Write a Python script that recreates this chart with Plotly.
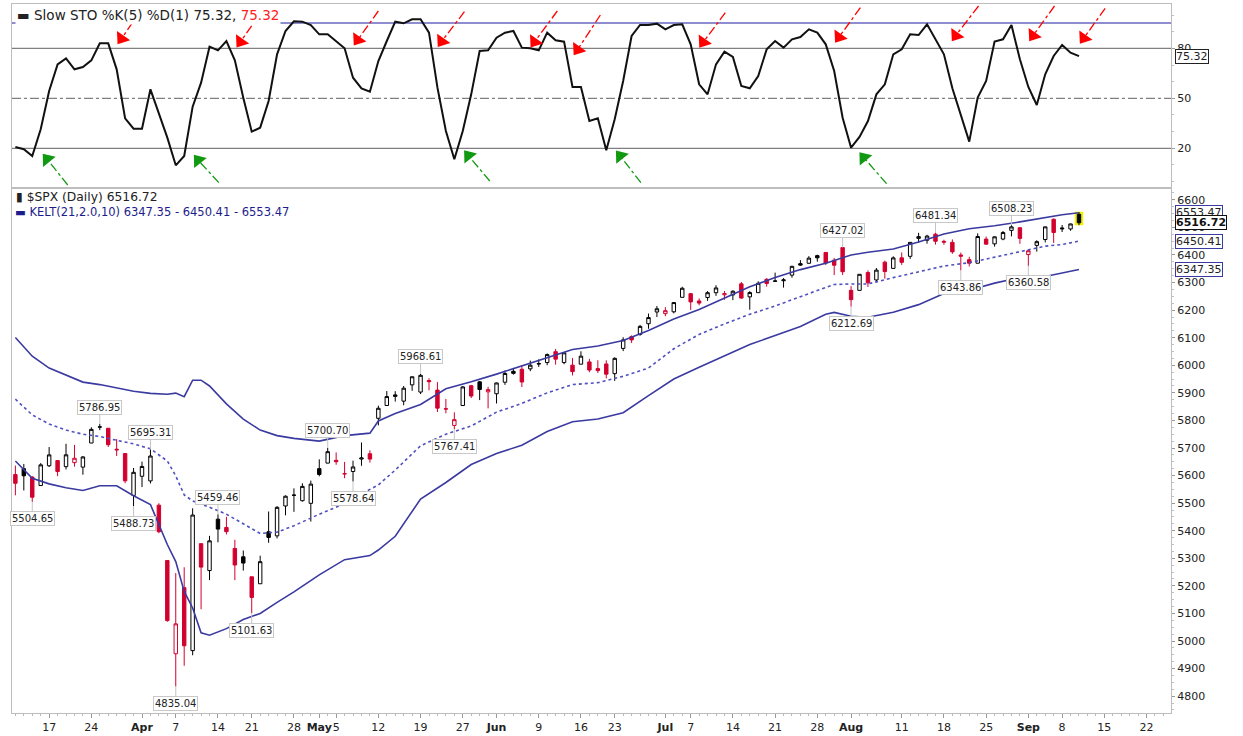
import pandas as pd
import plotly.graph_objs as go
from plotly.subplots import make_subplots

# trading calendar (NYSE holidays removed)
holidays = ['2025-04-18', '2025-05-26', '2025-06-19', '2025-07-04', '2025-09-01']
days = [d for d in pd.bdate_range('2025-03-11', '2025-09-30') if d.strftime('%Y-%m-%d') not in holidays]
pos = {d.strftime('%Y-%m-%d'): i for i, d in enumerate(days)}

# $SPX daily OHLC, Mar 11 - Sep 10 2025
prev_close = 5614.56
opens = [5603.65, 5624.84, 5594.45, 5563.85, 5635.60, 5654.53, 5632.37, 5646.92, 5630.73, 5718.08,
         5775.86, 5771.66, 5695.64, 5679.88, 5527.91, 5597.53, 5580.76, 5492.74, 5292.14, 4953.79,
         5193.57, 4965.28, 5353.15, 5255.56, 5441.96, 5411.99, 5335.75, 5305.45, 5232.94, 5207.67,
         5395.92, 5381.38, 5489.73, 5529.22, 5508.87, 5499.44, 5625.14, 5645.31, 5655.32, 5605.88,
         5614.74, 5660.00, 5679.12, 5807.72, 5854.21, 5887.00, 5869.98, 5929.09, 5902.88, 5944.66,
         5910.00, 5841.26, 5781.89, 5854.07, 5925.94, 5939.92, 5903.67, 5896.68, 5938.56, 5978.14,
         5985.67, 5987.06, 6004.60, 6009.91, 6049.38, 6009.90, 6000.56, 6004.00, 6012.15, 5987.93,
         6004.81, 5969.67, 6061.21, 6104.20, 6112.10, 6150.70, 6193.36, 6187.25, 6193.94, 6246.46,
         6259.75, 6233.38, 6245.73, 6263.14, 6255.68, 6255.15, 6295.30, 6248.22, 6263.40, 6312.00,
         6304.74, 6306.60, 6326.90, 6368.60, 6370.01, 6397.69, 6409.25, 6381.18, 6427.02, 6271.71,
         6271.71, 6336.33, 6309.45, 6374.01, 6351.47, 6389.69, 6395.17, 6460.17, 6453.40, 6475.50,
         6445.93, 6445.87, 6400.00, 6383.21, 6370.17, 6457.67, 6440.43, 6457.83, 6489.28, 6498.89,
         6401.51, 6434.98, 6456.07, 6529.53, 6498.09, 6494.38, 6547.64]
highs = [5636.30, 5642.19, 5597.78, 5645.27, 5703.52, 5654.53, 5715.33, 5711.15, 5670.84, 5775.14,
         5786.95, 5772.19, 5732.28, 5681.12, 5627.56, 5650.57, 5695.31, 5499.53, 5292.14, 5246.57,
         5267.47, 5481.34, 5353.15, 5381.46, 5459.46, 5450.41, 5367.24, 5328.31, 5232.94, 5309.60,
         5469.69, 5489.40, 5528.11, 5553.66, 5571.95, 5581.84, 5658.91, 5700.70, 5683.91, 5649.62,
         5654.14, 5720.10, 5691.68, 5853.50, 5906.63, 5906.06, 5924.84, 5958.62, 5968.61, 5953.06,
         5939.00, 5878.08, 5829.51, 5924.33, 5929.00, 5943.13, 5922.14, 5937.40, 5981.35, 5990.48,
         5999.70, 6016.87, 6021.31, 6043.01, 6059.40, 6045.43, 6026.16, 6050.83, 6023.25, 6018.25,
         6018.20, 6028.81, 6101.80, 6108.51, 6146.52, 6187.68, 6215.08, 6210.78, 6227.60, 6284.65,
         6262.09, 6242.70, 6269.11, 6290.22, 6269.41, 6272.12, 6302.04, 6268.91, 6304.48, 6315.61,
         6336.08, 6316.12, 6360.64, 6381.31, 6395.82, 6401.07, 6409.25, 6389.38, 6427.02, 6287.28,
         6329.94, 6343.96, 6352.83, 6379.65, 6395.16, 6409.29, 6446.55, 6480.28, 6473.22, 6481.34,
         6455.34, 6456.42, 6408.76, 6393.53, 6478.33, 6466.89, 6466.89, 6487.10, 6508.23, 6500.78,
         6416.54, 6453.34, 6502.54, 6532.65, 6508.76, 6513.35, 6555.97]
lows = [5528.41, 5546.09, 5504.65, 5563.85, 5631.12, 5597.76, 5622.20, 5632.57, 5603.10, 5718.08,
        5764.77, 5703.64, 5670.94, 5572.42, 5488.73, 5558.52, 5571.48, 5390.83, 5069.90, 4835.04,
        4910.42, 4948.43, 5115.27, 5220.77, 5358.02, 5386.44, 5220.79, 5255.58, 5101.63, 5207.67,
        5356.42, 5371.96, 5455.86, 5468.64, 5505.70, 5433.24, 5597.35, 5644.81, 5639.19, 5590.50,
        5578.64, 5635.66, 5646.92, 5782.04, 5853.68, 5868.41, 5855.00, 5907.38, 5895.69, 5909.26,
        5830.44, 5825.82, 5767.41, 5854.07, 5881.21, 5873.80, 5843.66, 5861.43, 5929.00, 5966.11,
        5921.20, 5978.63, 5994.18, 6000.26, 6002.32, 6003.88, 5963.21, 6004.00, 5974.80, 5971.89,
        5952.56, 5943.23, 6051.40, 6080.97, 6107.26, 6132.35, 6174.97, 6177.97, 6188.29, 6246.46,
        6201.01, 6217.73, 6233.51, 6251.80, 6237.56, 6236.31, 6241.12, 6201.60, 6263.40, 6285.27,
        6303.79, 6281.71, 6317.49, 6360.57, 6368.53, 6375.86, 6363.45, 6327.16, 6327.58, 6212.69,
        6271.71, 6283.95, 6301.09, 6314.00, 6350.76, 6364.06, 6385.76, 6445.02, 6441.07, 6437.80,
        6437.24, 6404.20, 6343.86, 6358.53, 6370.17, 6438.06, 6430.46, 6453.42, 6467.49, 6440.57,
        6360.58, 6412.22, 6445.46, 6443.68, 6483.26, 6487.84, 6508.00]
closes = [5572.07, 5599.30, 5521.52, 5638.94, 5675.12, 5614.66, 5675.29, 5662.89, 5667.56, 5767.57,
          5776.65, 5712.20, 5693.31, 5580.94, 5611.85, 5633.07, 5670.97, 5396.52, 5074.08, 5062.25,
          4982.77, 5456.90, 5268.05, 5363.36, 5405.97, 5396.63, 5275.70, 5282.70, 5158.20, 5287.76,
          5375.86, 5484.77, 5525.21, 5528.75, 5560.83, 5569.06, 5604.14, 5686.67, 5650.38, 5606.91,
          5631.28, 5663.94, 5659.91, 5844.19, 5886.55, 5892.58, 5916.93, 5958.38, 5963.60, 5940.46,
          5844.61, 5842.01, 5802.82, 5921.54, 5888.55, 5912.17, 5911.69, 5935.94, 5970.37, 5970.81,
          5939.30, 6000.36, 6005.88, 6038.81, 6022.24, 6045.26, 5976.97, 6033.11, 5982.72, 5980.87,
          5967.84, 6025.17, 6092.18, 6092.16, 6141.02, 6173.07, 6204.95, 6198.01, 6227.42, 6279.35,
          6229.98, 6225.52, 6263.26, 6280.46, 6259.75, 6268.56, 6243.76, 6263.70, 6297.36, 6296.79,
          6305.60, 6309.62, 6358.91, 6363.35, 6388.64, 6389.77, 6370.86, 6362.90, 6339.39, 6238.01,
          6329.94, 6299.19, 6345.06, 6340.00, 6389.45, 6373.45, 6445.76, 6466.58, 6468.54, 6449.80,
          6449.15, 6411.37, 6395.78, 6370.17, 6466.91, 6439.32, 6465.94, 6481.40, 6501.86, 6460.26,
          6415.54, 6448.26, 6502.08, 6481.50, 6495.15, 6512.61, 6516.72]

# Slow STO %K(5) %D(1), one value per trading day
stoch = [20.8, 19.5, 15.4, 31.4, 54.4, 70.4, 74.0, 67.4, 68.8, 72.8,
         83.0, 83.0, 67.4, 38.0, 31.8, 31.8, 55.4, 40.4, 26.4, 9.8,
         15.4, 45.0, 59.4, 81.0, 78.8, 84.4, 72.8, 50.4, 30.0, 32.4,
         48.4, 76.4, 90.4, 96.2, 96.0, 94.0, 88.4, 88.4, 84.0, 80.0,
         62.4, 56.0, 54.0, 72.4, 84.4, 96.0, 95.0, 97.4, 97.4, 89.4,
         56.4, 30.4, 13.4, 30.4, 52.4, 78.4, 78.8, 86.4, 89.4, 90.4,
         80.4, 80.0, 78.8, 89.4, 84.8, 84.0, 56.8, 56.8, 36.4, 38.0,
         18.8, 37.4, 60.4, 87.4, 94.0, 94.0, 94.8, 91.4, 94.0, 94.4,
         82.4, 58.4, 52.4, 70.4, 78.0, 74.8, 57.4, 56.0, 63.4, 79.4,
         84.4, 80.4, 85.4, 86.8, 91.4, 89.4, 82.4, 66.4, 38.4, 20.4,
         26.8, 36.4, 52.4, 58.4, 76.4, 79.4, 88.4, 88.0, 94.4, 85.4,
         76.4, 56.0, 39.4, 24.0, 50.4, 60.4, 84.0, 85.4, 94.0, 73.4,
         56.8, 46.0, 64.4, 75.4, 82.0, 77.4, 75.32]

# KELT(21,2.0,10)
kelt_days = ['2025-03-11', '2025-03-13', '2025-03-17', '2025-03-19', '2025-03-21', '2025-03-25',
             '2025-03-27', '2025-03-31', '2025-04-02', '2025-04-04', '2025-04-07', '2025-04-08',
             '2025-04-09', '2025-04-10', '2025-04-11', '2025-04-15', '2025-04-17', '2025-04-22',
             '2025-04-24', '2025-04-28', '2025-05-01', '2025-05-06', '2025-05-09', '2025-05-12',
             '2025-05-14', '2025-05-19', '2025-05-22', '2025-05-28', '2025-06-02', '2025-06-05',
             '2025-06-10', '2025-06-13', '2025-06-18', '2025-06-24', '2025-06-27', '2025-07-02',
             '2025-07-08', '2025-07-11', '2025-07-16', '2025-07-21', '2025-07-24', '2025-07-29',
             '2025-07-30', '2025-08-01', '2025-08-05', '2025-08-08', '2025-08-13', '2025-08-18',
             '2025-08-21', '2025-08-26', '2025-08-29', '2025-09-04', '2025-09-08', '2025-09-10']
kelt_upper = [6101, 6033, 5990, 5965, 5939, 5930, 5918, 5906, 5898, 5895, 5899, 5886,
              5946, 5946, 5925, 5860, 5805, 5765, 5745, 5735, 5725, 5745, 5754, 5798,
              5825, 5858, 5915, 5940, 5968, 5998, 6027, 6057, 6070, 6090, 6126, 6168,
              6202, 6245, 6285, 6318, 6347, 6370, 6380, 6400, 6410, 6422, 6447, 6476,
              6495, 6506, 6520, 6536, 6546, 6553.47]
kelt_mid = [5877, 5820, 5787, 5765, 5750, 5742, 5728, 5715, 5697, 5653, 5599, 5530,
            5508, 5497, 5485, 5460, 5425, 5390, 5395, 5418, 5460, 5498, 5550, 5566,
            5620, 5708, 5750, 5780, 5830, 5862, 5900, 5930, 5937, 5960, 5990, 6060,
            6112, 6150, 6185, 6215, 6249, 6283, 6293, 6295, 6295, 6318, 6340, 6360,
            6372, 6392, 6412, 6432, 6438, 6450.41]
kelt_lower = [5653, 5590, 5570, 5556, 5546, 5563, 5563, 5527, 5495, 5350, 5288, 5180,
              5120, 5030, 5021, 5045, 5078, 5100, 5140, 5178, 5240, 5295, 5310, 5330,
              5380, 5515, 5575, 5640, 5680, 5710, 5760, 5795, 5805, 5828, 5890, 5950,
              5993, 6035, 6075, 6108, 6141, 6185, 6192, 6178, 6174, 6192, 6220, 6260,
              6272, 6298, 6318, 6322, 6335, 6347.35]

# swing labels on the price chart
high_days = ['2025-03-25', '2025-04-02', '2025-04-14', '2025-05-02', '2025-05-19', '2025-07-31', '2025-08-15', '2025-08-28']
high_vals = [5786.95, 5695.31, 5459.46, 5700.70, 5968.61, 6427.02, 6481.34, 6508.23]
low_days = ['2025-03-13', '2025-03-31', '2025-04-07', '2025-04-21', '2025-05-07', '2025-05-23', '2025-08-01', '2025-08-20', '2025-09-02']
low_vals = [5504.65, 5488.73, 4835.04, 5101.63, 5578.64, 5767.41, 6212.69, 6343.86, 6360.58]

# hand-drawn arrows on the STO panel (trading-day position, STO value)
red_tip_x = [12.1, 26.2, 40.1, 50.0, 61.0, 66.1, 81.0, 97.1, 110.9, 120.1, 126.1]
red_tip_y = [82.4, 80.4, 81.8, 80.8, 80.4, 75.4, 80.4, 83.4, 84.4, 84.4, 82.8]
red_tail_x = [15.1, 29.2, 43.0, 53.2, 64.2, 69.3, 84.1, 100.1, 114.1, 123.1, 129.1]
red_tail_y = [104.4, 102.4, 102.4, 102.0, 102.4, 100.0, 101.4, 104.4, 105.4, 105.4, 104.0]
green_tip_x = [3.3, 21.2, 53.2, 71.2, 100.0]
green_tip_y = [16.4, 15.4, 18.4, 18.4, 17.4]
green_tail_x = [6.2, 24.1, 56.2, 74.1, 103.2]
green_tail_y = [-2.0, -0.6, 0.4, -0.6, -1.2]

# x axis labels
tick_days = ['2025-03-17', '2025-03-24', '2025-04-01', '2025-04-07', '2025-04-14', '2025-04-21', '2025-04-28',
             '2025-05-01', '2025-05-05', '2025-05-12', '2025-05-19', '2025-05-27', '2025-06-02', '2025-06-09',
             '2025-06-16', '2025-06-23', '2025-07-01', '2025-07-07', '2025-07-14', '2025-07-21', '2025-07-28',
             '2025-08-01', '2025-08-11', '2025-08-18', '2025-08-25', '2025-09-02', '2025-09-08', '2025-09-15',
             '2025-09-22']
tick_text = ['17', '24', '<b>Apr</b>', '7', '14', '21', '28', '<b>May</b>', '5', '12', '19', '27', '<b>Jun</b>',
             '9', '16', '23', '<b>Jul</b>', '7', '14', '21', '28', '<b>Aug</b>', '11', '18', '25', '<b>Sep</b>',
             '8', '15', '22']

FONT = 'DejaVu Sans'
RED = '#d2002e'
BLUE = '#3a3aa0'
split = 0.7405

n = len(closes)
xs = list(range(n))
prev = [prev_close] + closes[:-1]
up = [c >= p for c, p in zip(closes, prev)]

fig = make_subplots(rows=2, cols=1, shared_xaxes=True, vertical_spacing=0, row_heights=[0.26, 0.74])

# --- STO panel
for lvl, col, dash in [(80, '#808080', 'solid'), (20, '#808080', 'solid'), (50, '#808080', 'dashdot'), (95.2, '#1c1ca0', 'solid')]:
    fig.add_shape(type='line', xref='x domain', yref='y', x0=0, x1=1, y0=lvl, y1=lvl,
                  line=dict(color=col, width=1.2, dash=dash), layer='below')

fig.add_trace(go.Scatter(x=xs, y=stoch, mode='lines', line=dict(color='#111111', width=2),
                         showlegend=False, hoverinfo='skip'), row=1, col=1)


def add_arrow(tx, ty, sx, sy, color, angle):
    hx = tx + 0.16 * (sx - tx)
    hy = ty + 0.16 * (sy - ty)
    fig.add_trace(go.Scatter(x=[sx, hx], y=[sy, hy], mode='lines',
                             line=dict(color=color, width=1.3, dash='dashdot'),
                             showlegend=False, hoverinfo='skip'), row=1, col=1)
    fig.add_trace(go.Scatter(x=[hx], y=[hy], mode='markers',
                             marker=dict(symbol='triangle-up', size=14, angle=angle, color=color),
                             showlegend=False, hoverinfo='skip'), row=1, col=1)


for a in zip(red_tip_x, red_tip_y, red_tail_x, red_tail_y):
    add_arrow(*a, '#ff0000', 215)
for a in zip(green_tip_x, green_tip_y, green_tail_x, green_tail_y):
    add_arrow(*a, '#119911', 321)

# --- price panel
kx = [pos[d] for d in kelt_days]
fig.add_trace(go.Scatter(x=kx, y=kelt_upper, mode='lines', line=dict(color=BLUE, width=1.6),
                         showlegend=False, hoverinfo='skip'), row=2, col=1)
fig.add_trace(go.Scatter(x=kx, y=kelt_mid, mode='lines', line=dict(color='#5050c0', width=1.6, dash='dot'),
                         showlegend=False, hoverinfo='skip'), row=2, col=1)
fig.add_trace(go.Scatter(x=kx, y=kelt_lower, mode='lines', line=dict(color=BLUE, width=1.6),
                         showlegend=False, hoverinfo='skip'), row=2, col=1)

# highlight on the latest bar
fig.add_trace(go.Candlestick(x=[xs[-1]], open=[opens[-1]], high=[highs[-1]], low=[lows[-1]], close=[closes[-1]],
                             increasing=dict(line=dict(color='#f2f200', width=5), fillcolor='#f2f200'),
                             decreasing=dict(line=dict(color='#f2f200', width=5), fillcolor='#f2f200'),
                             showlegend=False, hoverinfo='skip'), row=2, col=1)

for flag, col in [(True, 'black'), (False, RED)]:
    idx = [i for i in xs if up[i] == flag]
    fig.add_trace(go.Candlestick(x=idx,
                                 open=[opens[i] for i in idx],
                                 high=[highs[i] for i in idx],
                                 low=[lows[i] for i in idx],
                                 close=[closes[i] for i in idx],
                                 increasing=dict(line=dict(color=col, width=1), fillcolor='white'),
                                 decreasing=dict(line=dict(color=col, width=1), fillcolor=col),
                                 whiskerwidth=0, showlegend=False, hoverinfo='skip'), row=2, col=1)

annotations = []
lab = dict(xref='x2', yref='y2', showarrow=True, arrowhead=0, arrowwidth=1, arrowcolor='#c4c4c4',
           ax=0, font=dict(family=FONT, size=10, color='#222222'), bgcolor='white',
           bordercolor='#c8c8c8', borderwidth=1, borderpad=1)
for d, v in zip(high_days, high_vals):
    annotations.append(dict(x=pos[d], y=v, text=f'{v:.2f}', ay=-17, **lab))
for d, v in zip(low_days, low_vals):
    annotations.append(dict(x=pos[d], y=v, text=f'{v:.2f}', ay=17, **lab))

# panel titles
annotations.append(dict(xref='x domain', yref='y domain', x=0, y=1, xanchor='left', yanchor='top',
                        xshift=3, yshift=-1, showarrow=False, bgcolor='white',
                        font=dict(family=FONT, size=13.5, color='#222222'),
                        text=f'▬ Slow STO %K(5) %D(1) {stoch[-1]:.2f}, <span style="color:#ff2020">{stoch[-1]:.2f}</span>'))
annotations.append(dict(xref='x2 domain', yref='y2 domain', x=0, y=1, xanchor='left', yanchor='top',
                        xshift=2, yshift=0, showarrow=False,
                        font=dict(family=FONT, size=12.3, color='#222222'),
                        text=f'▮ $SPX (Daily) {closes[-1]:.2f}'))
annotations.append(dict(xref='x2 domain', yref='y2 domain', x=0, y=1, xanchor='left', yanchor='top',
                        xshift=1, yshift=-15, showarrow=False,
                        font=dict(family=FONT, size=11.5, color='#1c1c8c'),
                        text=f'▬ KELT(21,2.0,10) {kelt_lower[-1]:.2f} - {kelt_mid[-1]:.2f} - {kelt_upper[-1]:.2f}'))

# last-value tags on the right scale
tag = dict(xref='paper', x=1, xanchor='left', xshift=4, showarrow=False, bgcolor='white',
           borderwidth=1, borderpad=0)
annotations.append(dict(yref='y', y=stoch[-1], text=f'{stoch[-1]:.2f}', bordercolor='#222222',
                        font=dict(family=FONT, size=11, color='#222222'), **tag))
annotations.append(dict(yref='y2', y=kelt_upper[-1], text=f'{kelt_upper[-1]:.2f}', bordercolor=BLUE,
                        font=dict(family=FONT, size=11, color='#222222'), **tag))
annotations.append(dict(yref='y2', y=kelt_mid[-1], text=f'{kelt_mid[-1]:.2f}', bordercolor=BLUE,
                        font=dict(family=FONT, size=11, color='#222222'), **tag))
annotations.append(dict(yref='y2', y=kelt_lower[-1], text=f'{kelt_lower[-1]:.2f}', bordercolor=BLUE,
                        font=dict(family=FONT, size=11, color='#222222'), **tag))
annotations.append(dict(yref='y2', y=closes[-1], text=f'<b>{closes[-1]:.2f}</b>', bordercolor='#111111',
                        font=dict(family=FONT, size=11, color='#111111'), **tag))

axis_common = dict(showgrid=False, zeroline=False, showline=True, mirror=True, linecolor='#bdbdbd',
                   linewidth=1, automargin=False)

fig.update_layout(
    width=1243, height=736,
    margin=dict(l=12, r=72, t=4, b=23),
    paper_bgcolor='white', plot_bgcolor='white',
    showlegend=False, boxgap=0.42,
    font=dict(family=FONT, size=11, color='#222222'),
    annotations=annotations,
    xaxis=dict(range=[-0.4, 136.9], showticklabels=False, ticks='', rangeslider=dict(visible=False), **axis_common),
    xaxis2=dict(range=[-0.4, 136.9], tickmode='array', tickvals=[pos[d] for d in tick_days], ticktext=tick_text,
                tickangle=0, ticks='outside', ticklen=4, tickcolor='#9a9a9a',
                tickfont=dict(family=FONT, size=11, color='#222222'),
                minor=dict(dtick=1, tick0=0, ticks='outside', ticklen=2, tickcolor='#b8b8b8'),
                rangeslider=dict(visible=False), **axis_common),
    yaxis=dict(domain=[split, 1], range=[-3.8, 106.6], side='right', tickmode='array', tickvals=[20, 50, 80],
               ticks='outside', ticklen=3, tickcolor='#9a9a9a',
               minor=dict(dtick=10, ticks='outside', ticklen=2, tickcolor='#c0c0c0'), **axis_common),
    yaxis2=dict(domain=[0, split], range=[4739, 6643], side='right', tickmode='linear', tick0=4800, dtick=100,
                ticks='outside', ticklen=3, tickcolor='#9a9a9a',
                minor=dict(dtick=25, ticks='outside', ticklen=2, tickcolor='#c0c0c0'), **axis_common),
)

# the page is photographed from its top-left corner, so drop the default body margin
fig.write_html('out.html', config={'displayModeBar': False},
               post_script="document.body.style.margin='0px';")
